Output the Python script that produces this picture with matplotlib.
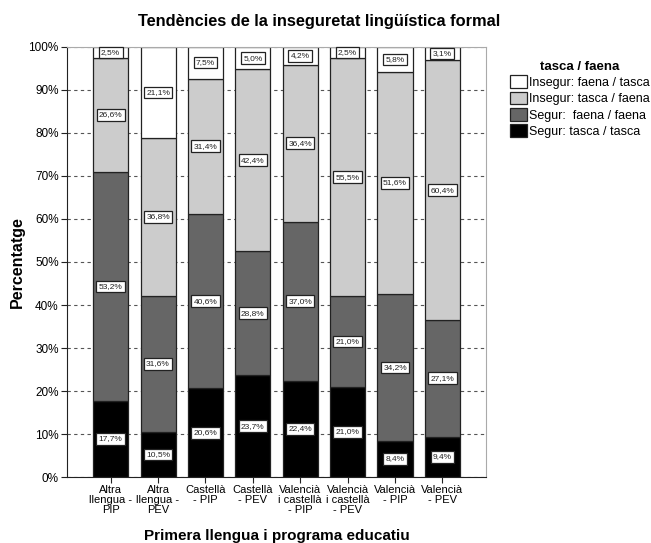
import numpy as np
import matplotlib
matplotlib.use("Agg")
import matplotlib.pyplot as plt
from matplotlib.patches import Patch

plt.rcParams['font.family'] = ['Liberation Sans', 'DejaVu Sans']

# categories (x axis)
grups = ["Altra\nllengua -\nPIP", "Altra\nllengua -\nPEV", "Castellà\n- PIP", "Castellà\n- PEV",
         "Valencià\ni castellà\n- PIP", "Valencià\ni castellà\n- PEV", "Valencià\n- PIP", "Valencià\n- PEV"]

# percentages per series (stack order, bottom -> top)
segur_tasca = [17.7, 10.5, 20.6, 23.7, 22.4, 21.0, 8.4, 9.4]
segur_faena = [53.2, 31.6, 40.6, 28.8, 37.0, 21.0, 34.2, 27.1]
insegur_tasca_faena = [26.6, 36.8, 31.4, 42.4, 36.4, 55.5, 51.6, 60.4]
insegur_faena_tasca = [2.5, 21.1, 7.5, 5.0, 4.2, 2.5, 5.8, 3.1]

series = [
    ("Segur: tasca / tasca", segur_tasca, "#000000"),
    ("Segur:  faena / faena", segur_faena, "#666666"),
    ("Insegur: tasca / faena", insegur_tasca_faena, "#cccccc"),
    ("Insegur: faena / tasca", insegur_faena_tasca, "#ffffff"),
]

fig = plt.figure(figsize=(6.51, 5.43), dpi=100)
ax = fig.add_axes([0.103, 0.1215, 0.6435, 0.792])

x = np.arange(len(grups))
bottom = np.zeros(len(grups))
for nom, vals, color in series:
    vals = np.array(vals)
    ax.bar(x, vals, bottom=bottom, width=0.74, color=color, edgecolor="#222222",
           linewidth=0.9, zorder=2)
    for xi, b, v in zip(x, bottom, vals):
        ax.text(xi, b + v / 2, f"{v:.1f}%".replace(".", ","), ha="center", va="center",
                fontsize=6, color="#222222", zorder=3,
                bbox=dict(boxstyle="square,pad=0.28", facecolor="white",
                          edgecolor="#222222", linewidth=0.9))
    bottom += vals

ax.set_xlim(-0.92, len(grups) - 1 + 0.92)
ax.set_ylim(0, 100)
ax.set_yticks(np.arange(0, 101, 10))
ax.set_yticklabels([f"{v}%" for v in range(0, 101, 10)], fontsize=8.5)
ax.set_xticks(x)
ax.set_xticklabels(grups, fontsize=8, linespacing=1.0)
ax.yaxis.grid(True, linestyle=(0, (3, 3)), color="#555555", linewidth=0.8, zorder=0)
ax.set_axisbelow(True)
ax.tick_params(axis="both", direction="out", length=4, width=0.8, color="#222222", pad=2)

for side in ["top", "right"]:
    ax.spines[side].set_color("#aaaaaa")
ax.spines["left"].set_color("#222222")
ax.spines["bottom"].set_color("#222222")

ax.set_ylabel("Percentatge", fontsize=11.5, fontweight="bold")
ax.yaxis.set_label_coords(-0.1, 0.5)
ax.set_xlabel("Primera llengua i programa educatiu", fontsize=11, fontweight="bold")
ax.xaxis.set_label_coords(0.5, -0.122)
fig.suptitle("Tendències de la inseguretat lingüística formal", fontsize=11.8,
             fontweight="bold", x=0.49, y=0.9595, va="center")

handles = [Patch(facecolor=c, edgecolor="#222222", linewidth=0.9, label=n)
           for n, _, c in reversed(series)]
leg = fig.legend(handles=handles, loc="upper left", bbox_to_anchor=(0.774, 0.9),
                 frameon=False, fontsize=9, title="tasca / faena", borderpad=0,
                 title_fontproperties={"weight": "bold", "size": 9.5},
                 handlelength=1.35, handleheight=1.2, handletextpad=0.2, labelspacing=0.22)

fig.savefig("out.png", dpi=100)
